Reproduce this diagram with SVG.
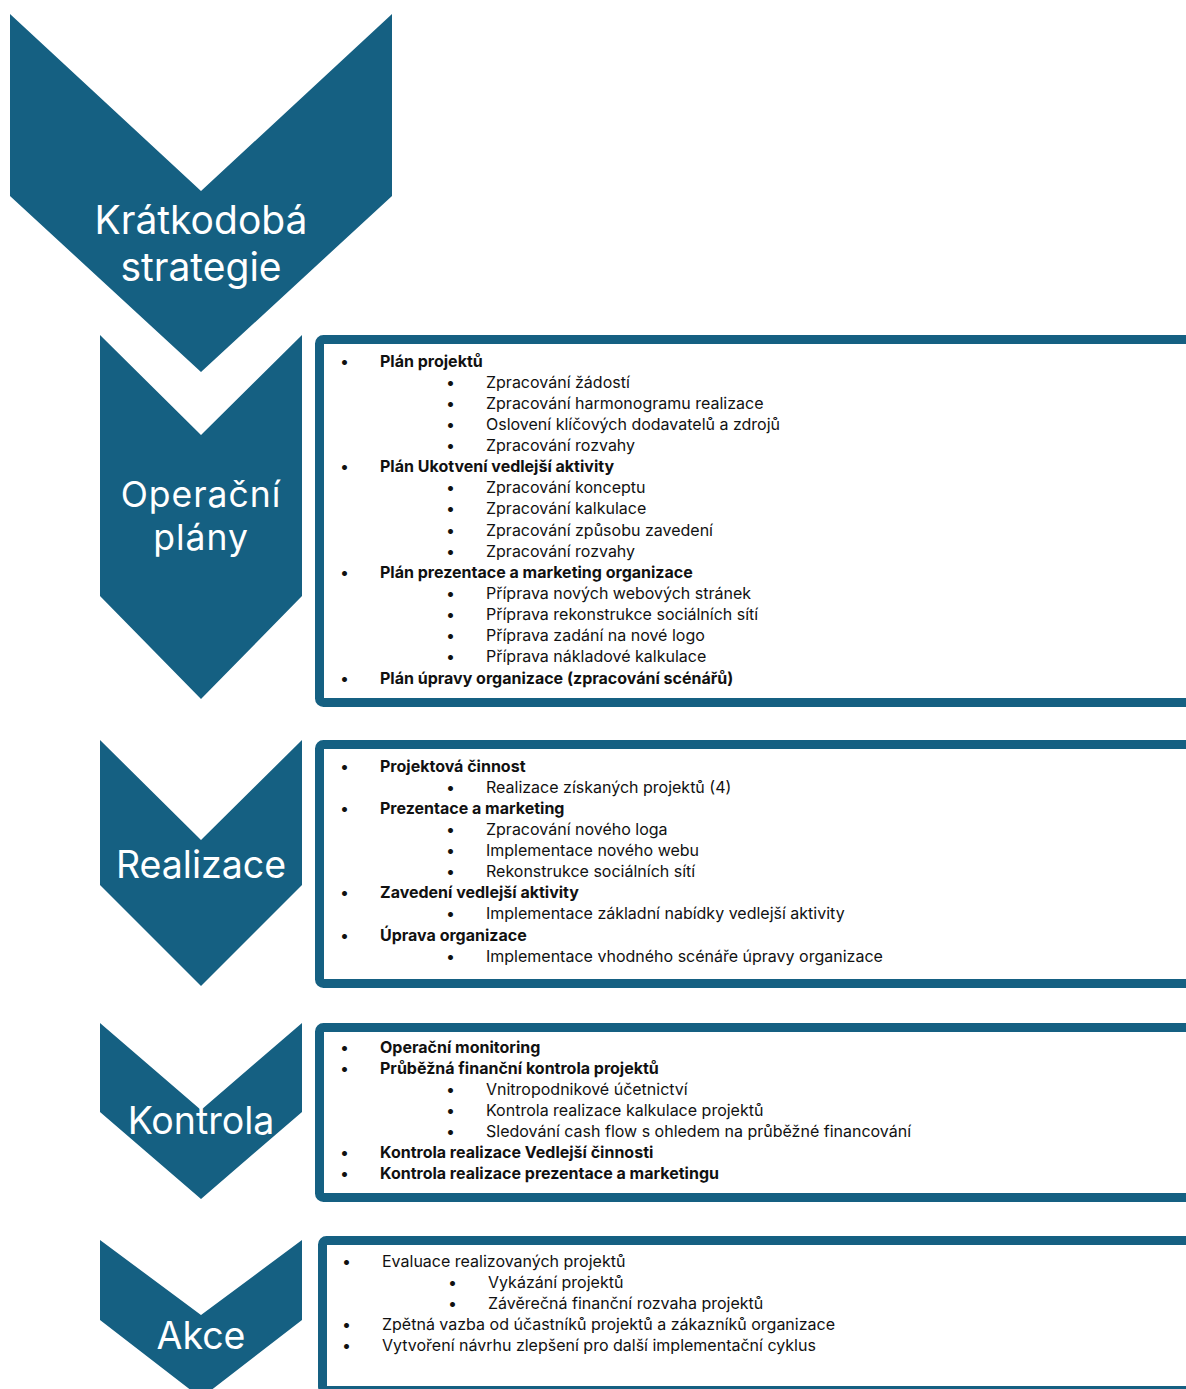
<svg xmlns="http://www.w3.org/2000/svg" width="1186" height="1389" viewBox="0 0 1186 1389">
<style>
.chev{fill:#156082}
.lbl{fill:#ffffff;font-family:Inter,"Noto Sans",sans-serif;text-anchor:middle}
.box{fill:#ffffff;stroke:#156082;stroke-width:9}
.t{font-family:Inter,"Noto Sans",sans-serif;font-size:16px;fill:#111111}
.b{font-weight:bold}
</style>
<rect width="1186" height="1389" fill="#ffffff"/>
<g id="node-kratkodoba">
<path class="chev" d="M10,14 L201,191 L392,14 L392,196 L201,372 L10,196 Z"/>
<text class="lbl" font-size="39" x="201" y="234">Krátkodobá</text>
<text class="lbl" font-size="39" x="201" y="281">strategie</text>
</g>
<g id="node-operacni">
<path class="chev" d="M100,335 L201,435 L302,335 L302,596 L201,699 L100,596 Z"/>
<text class="lbl" font-size="35.5" letter-spacing="1" x="201" y="507">Operační</text>
<text class="lbl" font-size="35.5" letter-spacing="1" x="201" y="550">plány</text>
</g>
<g id="node-realizace">
<path class="chev" d="M100,740 L201,840 L302,740 L302,885 L201,986 L100,885 Z"/>
<text class="lbl" font-size="37.5" x="201" y="878">Realizace</text>
</g>
<g id="node-kontrola">
<path class="chev" d="M100,1023 L201,1110 L302,1023 L302,1112 L201,1199 L100,1112 Z"/>
<text class="lbl" font-size="37.5" x="201" y="1134">Kontrola</text>
</g>
<g id="node-akce">
<path class="chev" d="M100,1240 L201,1315 L302,1240 L302,1320 L201,1398 L100,1320 Z"/>
<text class="lbl" font-size="37.5" x="201" y="1349">Akce</text>
</g>
<g id="box-operacni">
<rect class="box" x="319.5" y="339.5" width="900" height="363" rx="4"/>
<g class="t">
<text x="340" y="366.5">•</text><text class="b" x="380" y="366.5">Plán projektů</text>
<text x="446" y="387.6">•</text><text x="486" y="387.6">Zpracování žádostí</text>
<text x="446" y="408.8">•</text><text x="486" y="408.8">Zpracování harmonogramu realizace</text>
<text x="446" y="429.9">•</text><text x="486" y="429.9">Oslovení klíčových dodavatelů a zdrojů</text>
<text x="446" y="451">•</text><text x="486" y="451">Zpracování rozvahy</text>
<text x="340" y="472.2">•</text><text class="b" x="380" y="472.2">Plán Ukotvení vedlejší aktivity</text>
<text x="446" y="493.3">•</text><text x="486" y="493.3">Zpracování konceptu</text>
<text x="446" y="514.4">•</text><text x="486" y="514.4">Zpracování kalkulace</text>
<text x="446" y="535.6">•</text><text x="486" y="535.6">Zpracování způsobu zavedení</text>
<text x="446" y="556.7">•</text><text x="486" y="556.7">Zpracování rozvahy</text>
<text x="340" y="577.8">•</text><text class="b" x="380" y="577.8">Plán prezentace a marketing organizace</text>
<text x="446" y="599">•</text><text x="486" y="599">Příprava nových webových stránek</text>
<text x="446" y="620.1">•</text><text x="486" y="620.1">Příprava rekonstrukce sociálních sítí</text>
<text x="446" y="641.2">•</text><text x="486" y="641.2">Příprava zadání na nové logo</text>
<text x="446" y="662.4">•</text><text x="486" y="662.4">Příprava nákladové kalkulace</text>
<text x="340" y="683.5">•</text><text class="b" x="380" y="683.5">Plán úpravy organizace (zpracování scénářů)</text>
</g>
</g>
<g id="box-realizace">
<rect class="box" x="319.5" y="744.5" width="900" height="239" rx="4"/>
<g class="t">
<text x="340" y="771.5">•</text><text class="b" x="380" y="771.5">Projektová činnost</text>
<text x="446" y="792.6">•</text><text x="486" y="792.6">Realizace získaných projektů (4)</text>
<text x="340" y="813.8">•</text><text class="b" x="380" y="813.8">Prezentace a marketing</text>
<text x="446" y="834.9">•</text><text x="486" y="834.9">Zpracování nového loga</text>
<text x="446" y="856">•</text><text x="486" y="856">Implementace nového webu</text>
<text x="446" y="877.2">•</text><text x="486" y="877.2">Rekonstrukce sociálních sítí</text>
<text x="340" y="898.3">•</text><text class="b" x="380" y="898.3">Zavedení vedlejší aktivity</text>
<text x="446" y="919.4">•</text><text x="486" y="919.4">Implementace základní nabídky vedlejší aktivity</text>
<text x="340" y="940.6">•</text><text class="b" x="380" y="940.6">Úprava organizace</text>
<text x="446" y="961.7">•</text><text x="486" y="961.7">Implementace vhodného scénáře úpravy organizace</text>
</g>
</g>
<g id="box-kontrola">
<rect class="box" x="319.5" y="1027.5" width="900" height="170" rx="4"/>
<g class="t">
<text x="340" y="1052.5">•</text><text class="b" x="380" y="1052.5">Operační monitoring</text>
<text x="340" y="1073.6">•</text><text class="b" x="380" y="1073.6">Průběžná finanční kontrola projektů</text>
<text x="446" y="1094.8">•</text><text x="486" y="1094.8">Vnitropodnikové účetnictví</text>
<text x="446" y="1115.9">•</text><text x="486" y="1115.9">Kontrola realizace kalkulace projektů</text>
<text x="446" y="1137">•</text><text x="486" y="1137">Sledování cash flow s ohledem na průběžné financování</text>
<text x="340" y="1158.2">•</text><text class="b" x="380" y="1158.2">Kontrola realizace Vedlejší činnosti</text>
<text x="340" y="1179.3">•</text><text class="b" x="380" y="1179.3">Kontrola realizace prezentace a marketingu</text>
</g>
</g>
<g id="box-akce">
<rect class="box" x="322.5" y="1240.5" width="900" height="150" rx="4"/>
<g class="t">
<text x="342" y="1266.5">•</text><text x="382" y="1266.5">Evaluace realizovaných projektů</text>
<text x="448" y="1287.6">•</text><text x="488" y="1287.6">Vykázání projektů</text>
<text x="448" y="1308.8">•</text><text x="488" y="1308.8">Závěrečná finanční rozvaha projektů</text>
<text x="342" y="1329.9">•</text><text x="382" y="1329.9">Zpětná vazba od účastníků projektů a zákazníků organizace</text>
<text x="342" y="1351">•</text><text x="382" y="1351">Vytvoření návrhu zlepšení pro další implementační cyklus</text>
</g>
</g>
</svg>
